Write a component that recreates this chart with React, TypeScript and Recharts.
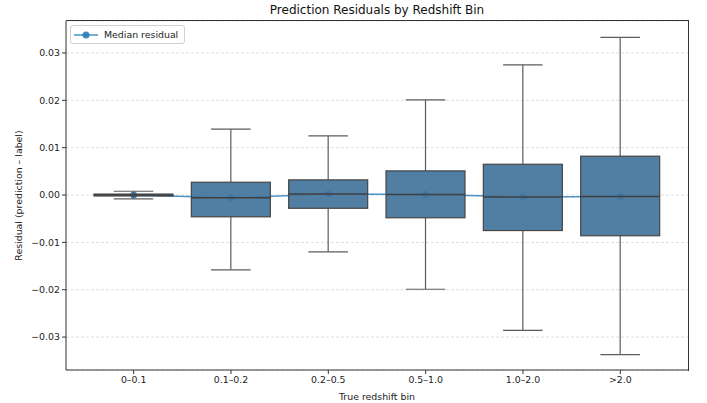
import { Bar, CartesianGrid, ComposedChart, Line, XAxis, YAxis } from "recharts";

const categories = ["0–0.1", "0.1–0.2", "0.2–0.5", "0.5–1.0", "1.0–2.0", ">2.0"];
const whiskerLow = [-0.0008, -0.0158, -0.012, -0.0199, -0.0286, -0.0337];
const q1 = [-0.0002, -0.0046, -0.0028, -0.0048, -0.0075, -0.0086];
const median = [0.0, -0.0006, 0.0002, 0.0001, -0.0004, -0.0003];
const q3 = [0.0002, 0.0027, 0.0032, 0.0051, 0.0065, 0.0082];
const whiskerHigh = [0.0008, 0.0139, 0.0125, 0.0201, 0.0275, 0.0333];
const yTicks = [-0.03, -0.02, -0.01, 0, 0.01, 0.02, 0.03];

const data = categories.map((bin, i) => ({
	bin,
	lo: whiskerLow[i],
	q1: q1[i],
	median: median[i],
	q3: q3[i],
	hi: whiskerHigh[i],
}));

const FONT = "DejaVu Sans, sans-serif";
const LINE_BLUE = "#1f77b4";
const TXT = 9.4;
const Y_DOMAIN: [number, number] = [-0.03695, 0.03675];
const X_PAD = { left: 19, right: 19 };

const fmt = (v: number) => {
	const s = Math.abs(v).toFixed(2);
	return v < -1e-9 ? `\u2212${s}` : s;
};

// draws whiskers, box and median for one bin from the [lo, hi] range bar
function BoxShape(props: any) {
	const { x, y, width, height, payload } = props;
	const top = Math.min(y, y + height);
	const bottom = Math.max(y, y + height);
	const span = payload.hi - payload.lo;
	const py = (v: number) =>
		span === 0 ? top : top + ((payload.hi - v) / span) * (bottom - top);
	const cx = x + width / 2;
	const capHalf = width / 4;
	const whisker = "#5c5c5c";
	return (
		<g>
			<line x1={cx} x2={cx} y1={top} y2={py(payload.q3)} stroke={whisker} strokeWidth={1.2} />
			<line x1={cx} x2={cx} y1={py(payload.q1)} y2={bottom} stroke={whisker} strokeWidth={1.2} />
			<line x1={cx - capHalf} x2={cx + capHalf} y1={top} y2={top} stroke={whisker} strokeWidth={1.2} />
			<line x1={cx - capHalf} x2={cx + capHalf} y1={bottom} y2={bottom} stroke={whisker} strokeWidth={1.2} />
			<rect
				x={x}
				y={py(payload.q3)}
				width={width}
				height={Math.max(py(payload.q1) - py(payload.q3), 1)}
				fill="#42749c"
				fillOpacity={0.92}
				stroke="#454545"
				strokeWidth={1.2}
			/>
			<line
				x1={x}
				x2={x + width}
				y1={py(payload.median)}
				y2={py(payload.median)}
				stroke="#404040"
				strokeWidth={1.5}
			/>
		</g>
	);
}

function YLabel(p: any) {
	const vb = p.viewBox;
	const lx = vb.x + 18;
	const ly = vb.y + vb.height / 2;
	return (
		<text
			x={lx}
			y={ly}
			transform={`rotate(-90 ${lx} ${ly})`}
			textAnchor="middle"
			dominantBaseline="central"
			fill="#222"
			fontSize={TXT}
			fontFamily={FONT}
		>
			Residual (prediction – label)
		</text>
	);
}

export default function App() {
	return (
		<div style={{ position: "absolute", left: 0, top: 0, width: 707, height: 403, background: "#fff" }}>
			<div
				style={{
					position: "absolute",
					top: 3,
					left: 66,
					width: 622,
					textAlign: "center",
					fontFamily: FONT,
					fontSize: 12,
					color: "#111",
				}}
			>
				Prediction Residuals by Redshift Bin
			</div>
			{/* base layer: grid, axes and the median line (sits behind the boxes) */}
			<div style={{ position: "absolute", left: 0, top: 0 }}>
				<ComposedChart
					width={707}
					height={403}
					data={data}
					margin={{ top: 21, right: 19, bottom: 0, left: 0 }}
					style={{ fontFamily: FONT }}
				>
					<CartesianGrid vertical={false} strokeDasharray="3 2" stroke="#dedede" />
					<XAxis
						dataKey="bin"
						type="category"
						scale="band"
						padding={X_PAD}
						height={33}
						stroke="#333"
						tickSize={4}
						tick={{ fill: "#222", fontSize: TXT }}
						interval={0}
						label={{ value: "True redshift bin", position: "insideBottom", offset: 3, fill: "#222", fontSize: TXT }}
					/>
					<YAxis
						type="number"
						domain={Y_DOMAIN}
						ticks={yTicks}
						allowDataOverflow
						width={66}
						stroke="#333"
						tickSize={4}
						tick={{ fill: "#222", fontSize: TXT }}
						tickFormatter={fmt}
						label={YLabel}
					/>
					<Line
						dataKey="median"
						stroke={LINE_BLUE}
						strokeOpacity={0.8}
						strokeWidth={1.5}
						dot={{ r: 3.5, fill: LINE_BLUE, fillOpacity: 0.85, stroke: "none" }}
						activeDot={false}
						isAnimationActive={false}
					/>
				</ComposedChart>
			</div>
			{/* box layer, same plot area */}
			<div style={{ position: "absolute", left: 0, top: 0 }}>
				<ComposedChart
					width={707}
					height={403}
					data={data}
					margin={{ top: 21, right: 19, bottom: 33, left: 66 }}
				>
					<XAxis dataKey="bin" type="category" scale="band" padding={X_PAD} hide />
					<YAxis type="number" domain={Y_DOMAIN} allowDataOverflow hide />
					<Bar
						dataKey={(d: any) => [d.lo, d.hi]}
						barSize={79}
						shape={<BoxShape />}
						isAnimationActive={false}
					/>
				</ComposedChart>
			</div>
			<div
				style={{
					position: "absolute",
					left: 66,
					top: 20,
					width: 622,
					height: 350,
					borderTop: "1px solid #333",
					borderRight: "1px solid #333",
					pointerEvents: "none",
				}}
			/>
			<div
				style={{
					position: "absolute",
					left: 70,
					top: 25,
					display: "flex",
					alignItems: "center",
					border: "1px solid #d0d0d0",
					borderRadius: 3,
					background: "rgba(255,255,255,0.85)",
					padding: "3px 6px 3px 3px",
					fontFamily: FONT,
					fontSize: TXT,
					color: "#222",
				}}
			>
				<svg width={24} height={10} style={{ marginRight: 6 }}>
					<line x1={0} x2={24} y1={5} y2={5} stroke={LINE_BLUE} strokeOpacity={0.8} strokeWidth={1.5} />
					<circle cx={12} cy={5} r={3.5} fill={LINE_BLUE} fillOpacity={0.85} />
				</svg>
				<span>Median residual</span>
			</div>
		</div>
	);
}
